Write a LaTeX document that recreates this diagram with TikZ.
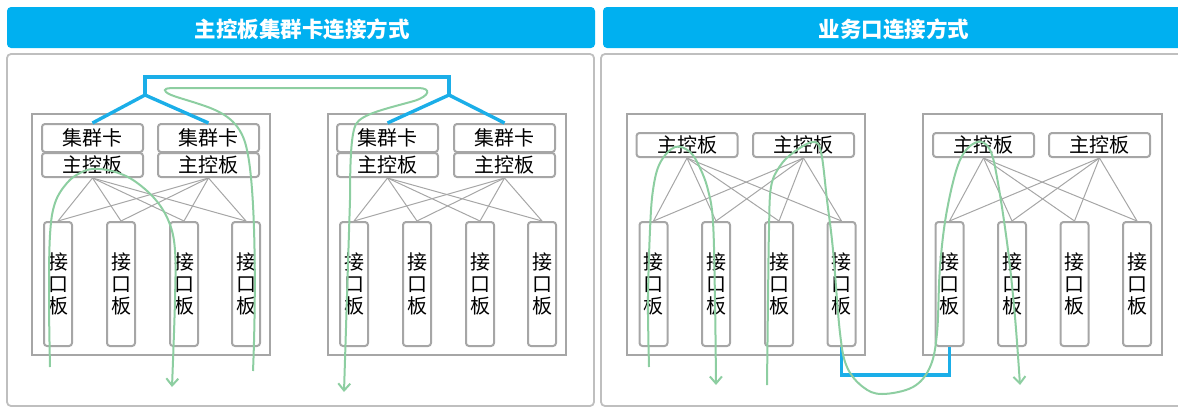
\documentclass[tikz,border=0pt]{standalone}
\usepackage{fontspec}
\newfontfamily\cjk{Noto Sans CJK SC}
\usetikzlibrary{arrows.meta}
\definecolor{hdr}{HTML}{00B0F0}
\definecolor{lnk}{HTML}{1BAEE8}
\definecolor{grn}{HTML}{8DCEA1}
\definecolor{bx}{HTML}{A6A6A6}
\definecolor{pnl}{HTML}{BFBFBF}
\tikzset{
  hdrbar/.style={fill=hdr, draw=none, rounded corners=4pt},
  ttl/.style={text=white, font=\cjk\bfseries\fontsize{21.5}{21.5}\selectfont, inner sep=0},
  panel/.style={draw=pnl, line width=1.8pt, rounded corners=4pt},
  chassis/.style={draw=bx, line width=2pt, inner sep=0},
  card/.style={draw=bx, line width=2pt, rounded corners=3pt, fill=white, minimum width=101pt, inner sep=0, font=\cjk\fontsize{20}{20}\selectfont},
  ifb/.style={draw=bx, line width=2pt, rounded corners=3pt, fill=white, minimum width=28pt, minimum height=124pt, inner sep=0, align=center, font=\cjk\fontsize{20}{22}\selectfont},
  mesh/.style={draw=bx, line width=1pt},
  link/.style={draw=lnk, line width=3.4pt},
  flow/.style={draw=grn, line width=2pt},
  flowarr/.style={flow, -{Straight Barb[length=7pt,width=12pt,line width=2pt]}}
}
\begin{document}
\begin{tikzpicture}[x=1pt,y=-1pt]
\useasboundingbox (0,0) rectangle (1178,408);
\clip (0,0) rectangle (1178,408);
% headers
\fill[hdrbar] (7,7) rectangle (595,48);
\fill[hdrbar] (603,7) rectangle (1195,48);
\node[ttl] (T1) at (302,29) {主控板集群卡连接方式};
\node[ttl] (T2) at (894,29) {业务口连接方式};
% panels
\draw[panel] (7,54) rectangle (594,406);
\draw[panel] (601,54) rectangle (1195,406);
% ---------- left panel ----------
\node[chassis, minimum width=238pt, minimum height=241pt] (C1) at (151,234.5) {};
\node[chassis, minimum width=238pt, minimum height=241pt] (C2) at (447,234.5) {};
\node[card, minimum height=28pt] (K11) at (92.5,138) {集群卡};
\node[card, minimum height=28pt] (K12) at (208.5,138) {集群卡};
\node[card, minimum height=24pt] (M11) at (92.5,165) {主控板};
\node[card, minimum height=24pt] (M12) at (208.5,165) {主控板};
\node[card, minimum height=28pt] (K21) at (387.5,138) {集群卡};
\node[card, minimum height=28pt] (K22) at (504.5,138) {集群卡};
\node[card, minimum height=24pt] (M21) at (387.5,165) {主控板};
\node[card, minimum height=24pt] (M22) at (504.5,165) {主控板};
\foreach \n/\x in {1/58,2/121,3/184,4/246}{
  \node[ifb] (I1\n) at (\x,284) {接\\口\\板};
}
\foreach \n/\x in {1/354,2/417,3/480,4/542}{
  \node[ifb] (I2\n) at (\x,284) {接\\口\\板};
}
% ---------- right panel ----------
\node[chassis, minimum width=238pt, minimum height=241pt] (C3) at (746,234.5) {};
\node[chassis, minimum width=239pt, minimum height=241pt] (C4) at (1042.5,234.5) {};
\node[card, minimum height=24pt] (M31) at (687,145) {主控板};
\node[card, minimum height=24pt] (M32) at (803.5,145) {主控板};
\node[card, minimum height=24pt] (M41) at (983.5,145) {主控板};
\node[card, minimum height=24pt] (M42) at (1099.5,145) {主控板};
\foreach \n/\x in {1/653.5,2/716,3/779,4/841.5}{
  \node[ifb] (I3\n) at (\x,284) {接\\口\\板};
}
\foreach \n/\x in {1/949.5,2/1012,3/1074.5,4/1137}{
  \node[ifb] (I4\n) at (\x,284) {接\\口\\板};
}
% mesh lines
\foreach \c in {1,2,3,4}{
  \foreach \m in {1,2}{
    \foreach \n in {1,2,3,4}{
      \draw[mesh] (M\c\m.south) -- (I\c\n.north);
    }
  }
}
% blue links
\coordinate (J1) at (145,95);
\coordinate (J1t) at (145,77);
\coordinate (J2) at (449,95);
\draw[link] (K11.north) -- (J1) -- (K12.north);
\draw[link] (K21.north) -- (J2) -- (K22.north);
\draw[link] (J1) -- (J1t) -| (J2);
\coordinate (B1) at (841.5,375);
\draw[link] (I34.south) -- (B1) -| (I41.south);
% green flows
\draw[flowarr] plot[smooth, tension=0.6] coordinates {(50,367) (49,300) (50,235) (55,203) (67,183) (80,173) (93,169) (112,171) (133,180) (155,199) (169,222) (175,250) (175,300) (172,387)};
\draw[flowarr] (253,371) .. controls (256,300) and (256,190) .. (247,150)
  .. controls (242,125) and (228,114) .. (205,106)
  .. controls (185,99) and (170,96) .. (166,92)
  .. controls (163,89) and (166,88) .. (176,88) -- (418,88)
  .. controls (432,88) and (430,96) .. (414,101)
  .. controls (385,109) and (362,114) .. (356,124)
  .. controls (352,132) and (350,150) .. (350,200) -- (344,392);
\draw[flowarr] plot[smooth, tension=0.6] coordinates {(649,367) (648,300) (650,230) (653,190) (660,163) (675,147) (690,152) (700,168) (708,190) (713,222) (715,300) (716,385)};
\draw[flowarr] plot[smooth, tension=0.6] coordinates {(767,385) (768,300) (769,230) (771,187) (780,166) (794,152) (813,142) (821,152) (827,200) (833,250) (840,333) (847,367) (863,387) (882,394) (913,387) (930,367) (937,333) (940,267) (947,210) (960,160) (977,142) (990,150) (998,183) (1008,250) (1015,317) (1020,385)};
\end{tikzpicture}
\end{document}
